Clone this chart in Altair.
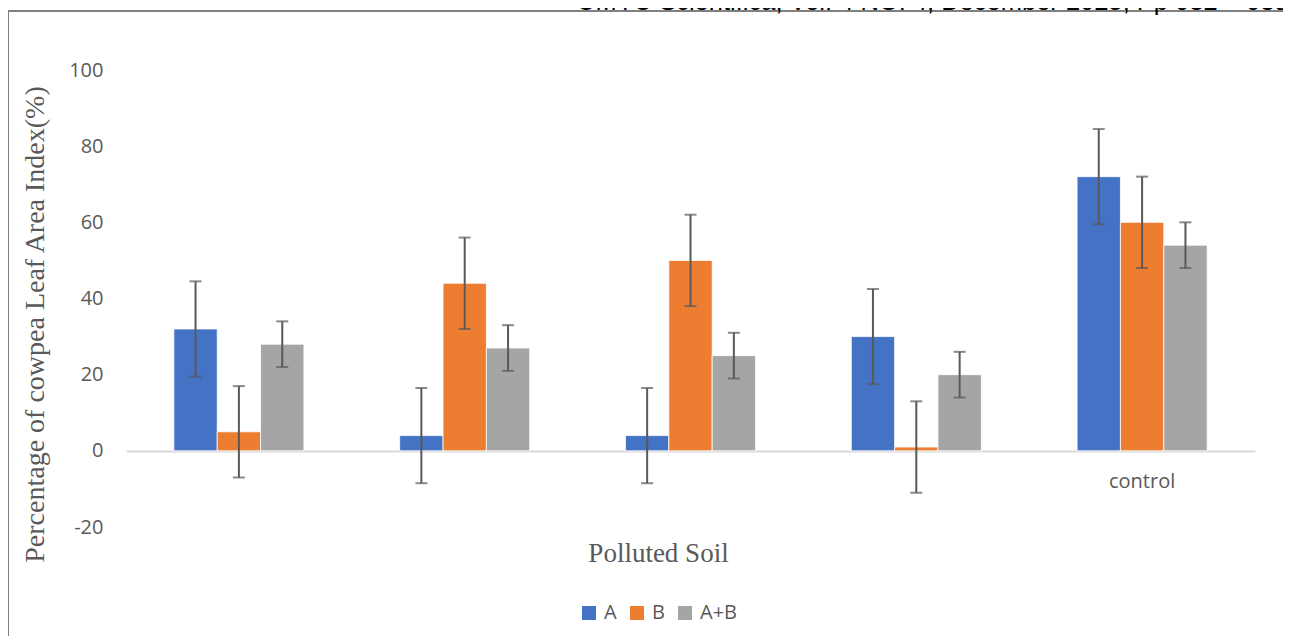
import altair as alt
import pandas as pd

categories = ["Soil 1", "Soil 2", "Soil 3", "Soil 4", "control"]
series = ["A", "B", "A+B"]
values_A = [32, 4, 4, 30, 72]
values_B = [5, 44, 50, 1, 60]
values_AB = [28, 27, 25, 20, 54]
err_A = [12.5, 12.5, 12.5, 12.5, 12.5]
err_B = [12, 12, 12, 12, 12]
err_AB = [6, 6, 6, 6, 6]
colors = ["#4472C4", "#ED7D31", "#A5A5A5"]
y_ticks = [-20, 0, 20, 40, 60, 80, 100]
header = "UMYU Scientifica, Vol. 4 NO. 4, December 2025, Pp 032 \u2013 039"

rows = []
for s, vals, errs in zip(series, [values_A, values_B, values_AB], [err_A, err_B, err_AB]):
    for c, v, e in zip(categories, vals, errs):
        rows.append(dict(category=c, series=s, value=v, lo=v - e, hi=v + e))
df = pd.DataFrame(rows)

W, H = 1129, 457
GREY = "#595959"

x_enc = alt.X(
    "category:N", sort=categories,
    scale=alt.Scale(paddingInner=0.424, paddingOuter=0.212),
    axis=alt.Axis(
        title="Polluted Soil",
        labelExpr="datum.label == 'control' ? datum.label : ''",
        labelAngle=0, ticks=False, domainColor="#D9D9D9", domainWidth=2,
        offset=-76, labelPadding=20, labelFont="Open Sans", labelFontSize=20,
        labelColor=GREY, titleFont="Liberation Serif", titleFontSize=27,
        titleColor=GREY, titleFontWeight="normal", titleX=532, titleY=102,
        titleBaseline="middle", titleAlign="center",
    ),
)
xoff = alt.XOffset("series:N", sort=series, scale=alt.Scale(paddingInner=0, paddingOuter=0))

y_axis = alt.Axis(
    values=y_ticks, grid=False, ticks=False, domain=False, labelPadding=23,
    labelExpr="datum.value < 0 ? '-' + abs(datum.value) : datum.label",
    labelFont="Open Sans", labelFontSize=20, labelColor=GREY,
    title="Percentage of cowpea Leaf Area Index(%)", titleFont="Liberation Serif",
    titleFontSize=28, titleFontWeight="normal", titleColor=GREY,
    titleX=-91, titleY=254, titleAngle=270, titleBaseline="middle", titleAlign="center",
)
y_scale = alt.Scale(domain=[-20, 100], nice=False, zero=False)


def y_enc(field):
    return alt.Y(field, scale=y_scale, axis=y_axis)


color = alt.Color(
    "series:N", sort=series, scale=alt.Scale(domain=series, range=colors),
    legend=alt.Legend(
        title=None, orient="none", legendX=453, legendY=533, direction="horizontal",
        symbolType="square", symbolSize=196, symbolStrokeWidth=0,
        labelFont="Open Sans", labelFontSize=20, labelColor=GREY,
        columnPadding=10, labelOffset=5,
    ),
)

base = alt.Chart(df)
bars = base.mark_bar(stroke="white", strokeWidth=0.8).encode(
    x=x_enc, xOffset=xoff, y=y_enc("value:Q"), y2=alt.datum(0), color=color
)
rules = base.mark_rule(color=GREY, strokeWidth=2).encode(
    x=x_enc, xOffset=xoff, y=y_enc("lo:Q"), y2="hi:Q"
)
cap_lo = base.mark_tick(color=GREY, thickness=2, size=12).encode(
    x=x_enc, xOffset=xoff, y=y_enc("lo:Q")
)
cap_hi = base.mark_tick(color=GREY, thickness=2, size=12).encode(
    x=x_enc, xOffset=xoff, y=y_enc("hi:Q")
)

dummy = pd.DataFrame({"k": [0]})
frame_top = alt.Chart(dummy).mark_rule(color="#808080", strokeWidth=2).encode(
    x=alt.value(-118), x2=alt.value(1157), y=alt.value(-59)
)
frame_left = alt.Chart(dummy).mark_rule(color="#808080", strokeWidth=2).encode(
    x=alt.value(-118), y=alt.value(-59), y2=alt.value(570)
)
head = alt.Chart(dummy).mark_text(
    align="left", baseline="alphabetic",
    font="Liberation Sans Narrow, Arial Narrow, Liberation Sans", fontSize=25.5, color="black"
).encode(x=alt.value(451), y=alt.value(-60.5), text=alt.value(header))

chart = alt.layer(bars, rules, cap_lo, cap_hi, frame_top, frame_left, head).properties(
    width=W, height=H,
    autosize=alt.AutoSizeParams(type="none"),
    padding={"left": 118, "top": 62, "right": 28, "bottom": 109},
    background="white",
).configure_view(strokeWidth=0)

chart.save("out.html", embed_options={"renderer": "svg", "actions": False})
